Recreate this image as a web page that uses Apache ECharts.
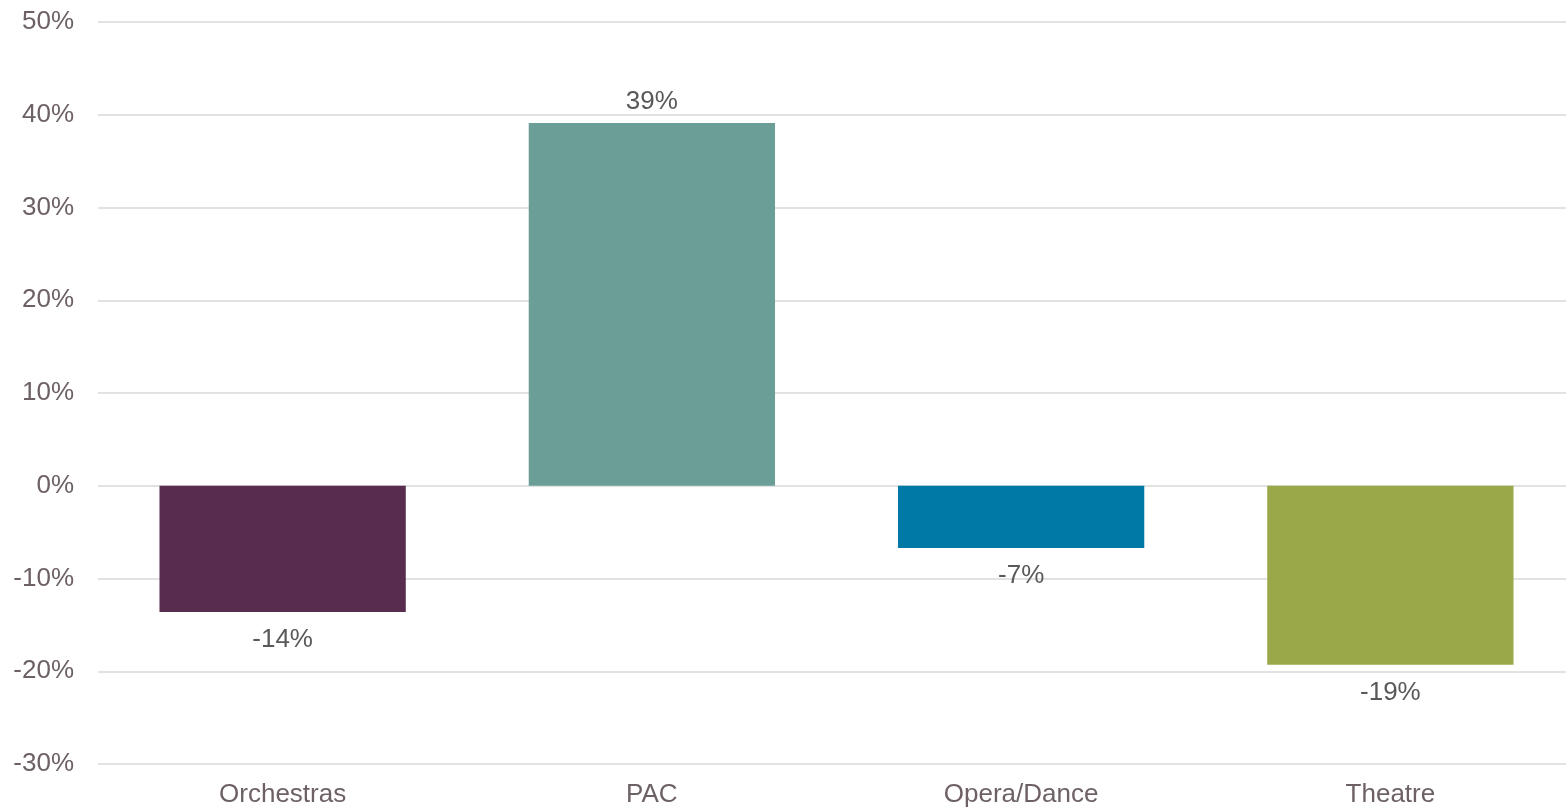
<!DOCTYPE html>
<html><head><meta charset="utf-8">
<script src="https://cdn.jsdelivr.net/npm/echarts@6/dist/echarts.min.js"></script>
<style>html,body{margin:0;padding:0;background:#fff;overflow:hidden}#c{width:1575px;height:810px}</style>
</head><body><div id="c"></div>
<script>
const categories = ["Orchestras", "PAC", "Opera/Dance", "Theatre"];
const values = [-13.6, 39.1, -6.7, -19.3];
const colors = ["#582C4F", "#6A9E96", "#0079A6", "#9BA84A"];
const yMin = -30, yMax = 50, yStep = 10;

const textColor = "#6d6166";
const font = "'Liberation Sans', Arial, sans-serif";
const chart = echarts.init(document.getElementById('c'));
chart.setOption({
  animation: false,
  grid: {left: 98, right: 0, top: 22, bottom: 46, containLabel: false},
  xAxis: {
    type: 'category', data: categories,
    axisLine: {show: false}, axisTick: {show: false},
    axisLabel: {color: textColor, fontSize: 26, fontFamily: font, margin: 18}
  },
  yAxis: {
    type: 'value', min: yMin, max: yMax, interval: yStep,
    axisLine: {show: false}, axisTick: {show: false},
    axisLabel: {color: textColor, fontSize: 26, fontFamily: font, margin: 24, formatter: v => v + '%'},
    splitLine: {lineStyle: {color: '#d9d9d9', width: 1.5}}
  },
  series: [{
    type: 'bar', barWidth: '66.7%',
    data: values.map((v, i) => ({
      value: v,
      itemStyle: {color: colors[i]},
      label: {position: v >= 0 ? 'top' : 'bottom', distance: v >= 0 ? 8 : 15}
    })),
    label: {show: true, color: '#595959', fontSize: 26, fontFamily: font,
      formatter: p => Math.round(p.value) + '%'}
  }]
});
</script></body></html>
